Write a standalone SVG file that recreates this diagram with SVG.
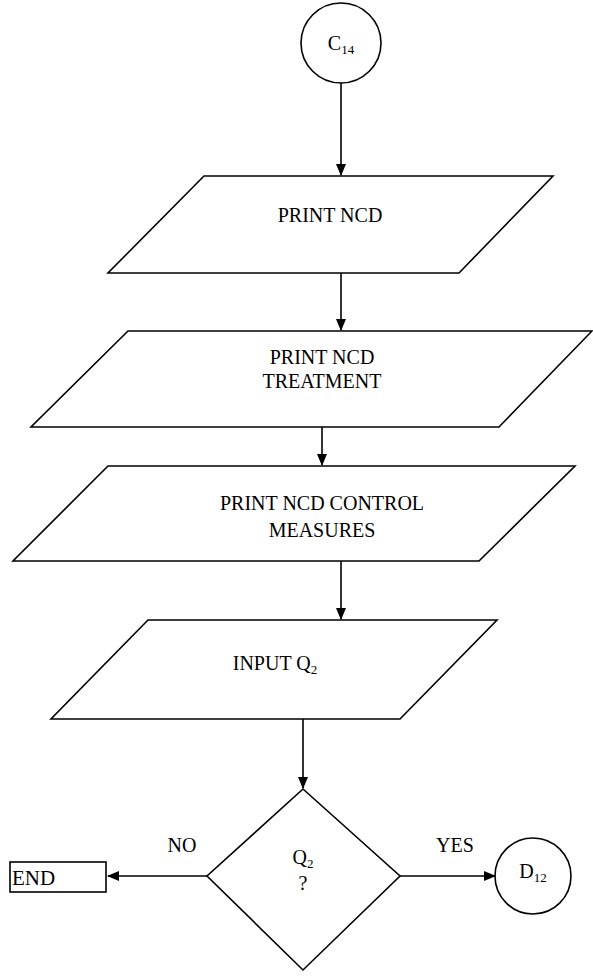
<svg xmlns="http://www.w3.org/2000/svg" width="593" height="978" viewBox="0 0 593 978">
<style>
.s{fill:none;stroke:#000;stroke-width:1.6}
.t{font-family:"Liberation Serif","Times New Roman",serif;font-size:20px;fill:#000;text-anchor:middle}
.sub{font-size:13px}
.c{fill:none;stroke:#000;stroke-width:1.6}
</style>
<defs>
<marker id="ah" markerWidth="12" markerHeight="10" refX="11" refY="5" orient="auto" markerUnits="userSpaceOnUse">
<path d="M0,0 L12,5 L0,10 Z" fill="#000"/>
</marker>
</defs>
<rect width="593" height="978" fill="#fff"/>
<g id="connectors">
<line class="c" x1="341" y1="83" x2="341" y2="175" marker-end="url(#ah)"/>
<line class="c" x1="341" y1="273" x2="341" y2="330" marker-end="url(#ah)"/>
<line class="c" x1="322" y1="427" x2="322" y2="465" marker-end="url(#ah)"/>
<line class="c" x1="341" y1="561" x2="341" y2="619" marker-end="url(#ah)"/>
<line class="c" x1="303" y1="719" x2="303" y2="788" marker-end="url(#ah)"/>
<line class="c" x1="207" y1="876" x2="108" y2="876" marker-end="url(#ah)"/>
<line class="c" x1="400" y1="876" x2="495" y2="876" marker-end="url(#ah)"/>
<text class="t" x="182" y="852">NO</text>
<text class="t" x="455" y="852">YES</text>
</g>
<g id="c14">
<circle class="s" cx="341" cy="43" r="40"/>
<text class="t" x="341" y="50">C<tspan class="sub" dy="4">14</tspan></text>
</g>
<g id="print-ncd">
<polygon class="s" points="204,176 553,176 459,273 108,273"/>
<text class="t" x="330" y="222">PRINT NCD</text>
</g>
<g id="print-treatment">
<polygon class="s" points="128,331 592,331 499,427 31,427"/>
<text class="t" x="322" y="364">PRINT NCD</text>
<text class="t" x="322" y="388">TREATMENT</text>
</g>
<g id="print-control">
<polygon class="s" points="108,466 575,466 479,561 13,561"/>
<text class="t" x="322" y="510">PRINT NCD CONTROL</text>
<text class="t" x="322" y="537">MEASURES</text>
</g>
<g id="input-q2">
<polygon class="s" points="148,620 497,620 400,719 51,719"/>
<text class="t" x="275" y="670">INPUT Q<tspan class="sub" dy="4">2</tspan></text>
</g>
<g id="decision">
<polygon class="s" points="303,789 400,876 303,970 207,876"/>
<text class="t" x="303" y="864">Q<tspan class="sub" dy="4">2</tspan></text>
<text class="t" x="303" y="890">?</text>
</g>
<g id="end">
<rect class="s" x="10" y="862" width="96" height="30"/>
<text class="t" x="12" y="885" style="text-anchor:start;font-size:21px">END</text>
</g>
<g id="d12">
<circle class="s" cx="533" cy="876" r="38"/>
<text class="t" x="533" y="878">D<tspan class="sub" dy="4">12</tspan></text>
</g>
</svg>
